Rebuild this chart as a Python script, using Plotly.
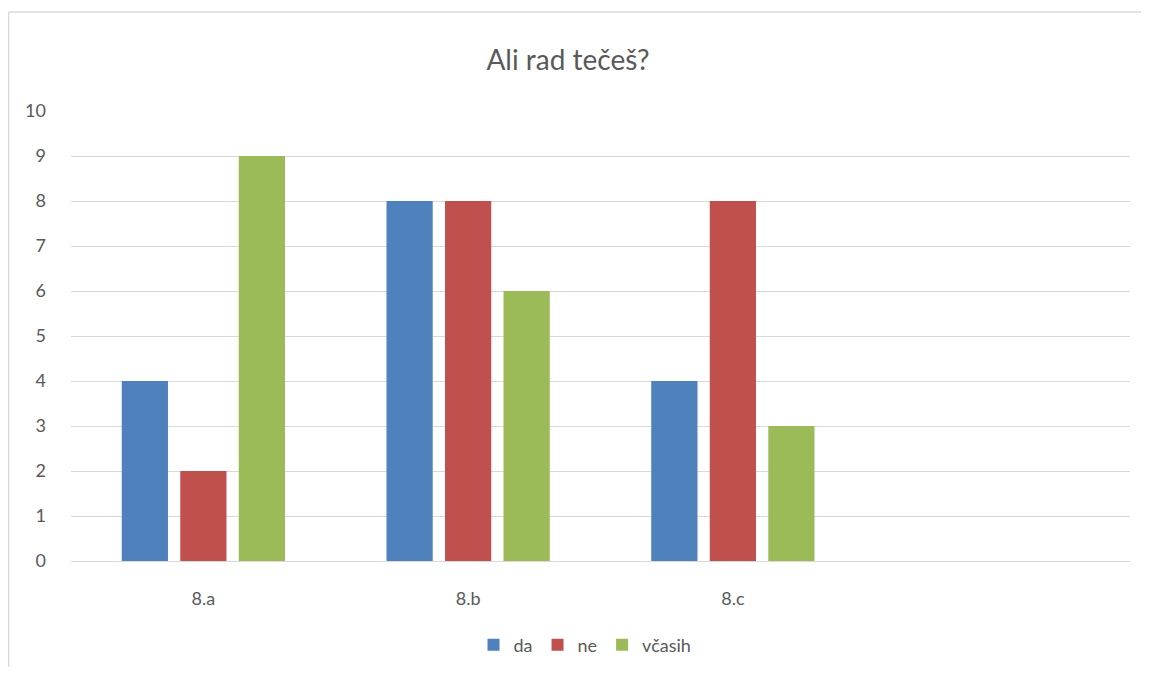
"""Grouped bar chart: Ali rad tečeš?"""

import plotly.graph_objects as go

# data
categories = ["8.a", "8.b", "8.c"]
da = [4, 8, 4]
ne = [2, 8, 8]
vcasih = [9, 6, 3]
series_names = ["da", "ne", "včasih"]
colors = ["#4F81BD", "#C0504D", "#9BBB59"]

FONT = "Lato, Open Sans, sans-serif"
GREY = "#595959"
BORDER = "#D9D9D9"

# page body has an 8px margin, so figure coords are screen coords minus 8;
# figure is shrunk so the page does not get scrollbars
W, H = 1133, 659
L, T, R, B = 63, 103, 1122, 553


def px_x(x):
    return (x - L) / (R - L)


def px_y(y):
    return (B - y) / (B - T)


fig = go.Figure()
for name, vals, col in zip(series_names, [da, ne, vcasih], colors):
    fig.add_trace(go.Bar(x=categories, y=vals, name=name, marker=dict(color=col, line=dict(width=0))))

fig.update_layout(
    width=W,
    height=H,
    margin=dict(l=L, r=W - R, t=T, b=H - B, autoexpand=False),
    paper_bgcolor="white",
    plot_bgcolor="white",
    barmode="group",
    bargap=0.337,
    bargroupgap=0.21,
    title=dict(text="Ali rad tečeš?", x=560 / W, xanchor="center", y=1 - 52 / H, yanchor="middle",
               font=dict(family=FONT, size=28, color=GREY)),
    font=dict(family=FONT, size=18, color=GREY),
    showlegend=True,
    legend=dict(orientation="h", x=px_x(577), xanchor="center",
                y=px_y(637), yanchor="middle", bgcolor="rgba(0,0,0,0)",
                font=dict(family=FONT, size=18, color=GREY), itemwidth=30, traceorder="normal"),
    xaxis=dict(range=[-0.5, 3.5], showgrid=False, showline=False, zeroline=False, ticks="",
               ticklabelstandoff=25, tickfont=dict(size=18, color=GREY)),
    yaxis=dict(range=[0, 10], dtick=1, showgrid=True, gridcolor=BORDER, gridwidth=1,
               zeroline=True, zerolinecolor=BORDER, zerolinewidth=1, showline=False, ticks="",
               ticklabelstandoff=24, tickfont=dict(size=18, color=GREY)),
    shapes=[
        # chart outline: only left and top edges are visible in the frame
        dict(type="line", xref="paper", yref="paper", x0=px_x(0.5), x1=px_x(0.5), y0=px_y(H), y1=px_y(4),
             line=dict(color=BORDER, width=1.5), layer="below"),
        dict(type="line", xref="paper", yref="paper", x0=px_x(0.5), x1=px_x(W), y0=px_y(4), y1=px_y(4),
             line=dict(color=BORDER, width=1.5), layer="below"),
    ],
)

fig.write_html("out.html")
